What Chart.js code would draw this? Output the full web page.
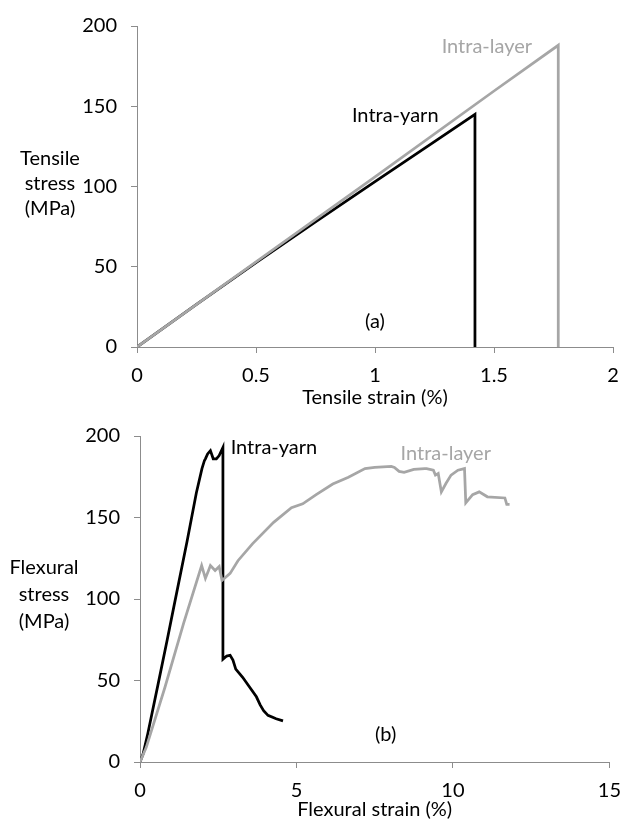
<!DOCTYPE html>
<html>
<head>
<meta charset="utf-8">
<script src="https://cdn.jsdelivr.net/npm/chart.js@4.4.1/dist/chart.umd.min.js"></script>
<style>
  body { margin: 0; background: #fff; }
  #wrap { position: relative; width: 632px; height: 825px; }
  canvas { position: absolute; left: 0; }
  .ytitle { position: absolute; width: 100px; font-family: Lato, sans-serif; font-size: 20px; text-align: center; color: #000; }
</style>
</head>
<body>
<div id="wrap">
  <canvas id="tensileChart" width="632" height="410" style="top:0px"></canvas>
  <canvas id="flexuralChart" width="632" height="415" style="top:410px"></canvas>
  <div class="ytitle" style="left:0px; top:145px; line-height:25px">Tensile<br>stress<br>(MPa)</div>
  <div class="ytitle" style="left:-6px; top:553px; line-height:27px">Flexural<br>stress<br>(MPa)</div>
</div>
<script>
// (a) tensile curves
const tensileYarnStrain = [0, 0.25, 0.5, 0.75, 1.0, 1.25, 1.42, 1.42];
const tensileYarnStress = [0, 26.5, 52.5, 78, 103, 128, 145, 0];
const tensileLayerStrain = [0, 0.5, 1.0, 1.5, 1.77, 1.77];
const tensileLayerStress = [0, 53, 106, 159.5, 188, 0];
const tensileTicks = [0, 0.5, 1, 1.5, 2];

// (b) flexural curves
const flexYarnStrain = [0, 0.1, 0.25, 0.57, 0.87, 1.1, 1.5, 1.8, 1.98, 2.06, 2.09, 2.16, 2.25, 2.34, 2.44, 2.53, 2.65,
  2.65, 2.77, 2.88, 2.97, 3.06, 3.28, 3.5, 3.72, 3.84, 3.95, 4.09, 4.35, 4.57];
const flexYarnStress = [0, 5, 17.5, 47, 75, 97, 135, 165, 180, 185, 186, 189, 191, 186, 186, 188, 193,
  63, 65, 65.5, 62.5, 57, 52, 46, 40, 35, 31.5, 28.6, 26.5, 25.2];
const flexLayerStrain = [0, 0.2, 0.8, 1.4, 1.97, 2.09, 2.19, 2.25, 2.4, 2.53, 2.62, 2.88, 3.13, 3.6, 4.27, 4.84, 5.2,
  5.63, 6.16, 6.66, 7.19, 7.5, 8.03, 8.13, 8.28, 8.44, 8.75, 9.1, 9.16, 9.375, 9.44, 9.53, 9.63, 9.78, 9.94, 10.16,
  10.37, 10.41, 10.63, 10.84, 11.1, 11.66, 11.72, 11.81];
const flexLayerStress = [0, 9, 46, 85.5, 120.5, 112.7, 117.5, 120.5, 117.5, 119.9, 111.4, 115.7, 123.5, 134, 147, 156, 158.4,
  164, 170.5, 174.7, 180, 180.7, 181.3, 180.7, 178.3, 177.7, 179.5, 180, 180, 179, 176, 177, 165.7, 171, 176, 179,
  180, 159, 164, 165.7, 162.7, 162, 158, 158];
const flexTicks = [0, 5, 10, 15];
const stressTicks = [0, 50, 100, 150, 200];

const BLACK = '#000000';
const GREY = '#a6a6a6';
const AXIS = '#8c8c8c';
const FONT = 'Lato, sans-serif';

function pts(xs, ys) {
  return xs.map((x, i) => ({ x: x, y: ys[i] }));
}

const curveLabels = {
  id: 'curveLabels',
  afterDatasetsDraw(chart, args, opts) {
    const { ctx, scales } = chart;
    ctx.save();
    ctx.font = '20px ' + FONT;
    ctx.textAlign = 'center';
    ctx.textBaseline = 'middle';
    opts.items.forEach(it => {
      ctx.fillStyle = it.color;
      ctx.fillText(it.text, scales.x.getPixelForValue(it.x), scales.y.getPixelForValue(it.y));
    });
    ctx.restore();
  }
};

function lineSet(data, color) {
  return {
    data: data,
    borderColor: color,
    borderWidth: 2.75,
    pointRadius: 0,
    showLine: true,
    tension: 0,
    fill: false
  };
}

function buildChart(id, cfg) {
  return new Chart(document.getElementById(id), {
    type: 'scatter',
    data: {
      datasets: [
        lineSet(pts(cfg.layerX, cfg.layerY), GREY),
        lineSet(pts(cfg.yarnX, cfg.yarnY), BLACK)
      ]
    },
    options: {
      responsive: false,
      animation: false,
      layout: { padding: { left: 0, top: 20, right: cfg.rightPad, bottom: 0 } },
      plugins: {
        legend: { display: false },
        tooltip: { enabled: false },
        curveLabels: { items: cfg.labels }
      },
      scales: {
        x: {
          type: 'linear',
          min: 0,
          max: cfg.xTicks[cfg.xTicks.length - 1],
          afterBuildTicks: s => { s.ticks = cfg.xTicks.map(v => ({ value: v })); },
          afterFit: s => { s.height = cfg.xAxisHeight; },
          grid: { drawOnChartArea: false, tickLength: 6, color: AXIS },
          border: { color: AXIS, width: 1 },
          ticks: { color: '#000', padding: 11, font: { family: FONT, size: 20 }, callback: v => String(v) },
          title: {
            display: true,
            text: cfg.xTitle,
            color: '#000',
            font: { family: FONT, size: 20 },
            padding: { top: 0, bottom: cfg.titlePad }
          }
        },
        y: {
          type: 'linear',
          min: 0,
          max: 200,
          afterBuildTicks: s => { s.ticks = stressTicks.map(v => ({ value: v })); },
          afterFit: s => { s.width = cfg.yAxisWidth; },
          grid: { drawOnChartArea: false, tickLength: 6, color: AXIS },
          border: { color: AXIS, width: 1 },
          ticks: { color: '#000', padding: 14, font: { family: FONT, size: 20 } }
        }
      }
    },
    plugins: [curveLabels]
  });
}

buildChart('tensileChart', {
  yarnX: tensileYarnStrain, yarnY: tensileYarnStress,
  layerX: tensileLayerStrain, layerY: tensileLayerStress,
  xTicks: tensileTicks,
  xTitle: 'Tensile strain (%)',
  yAxisWidth: 137, rightPad: 19, xAxisHeight: 63, titlePad: 0,
  labels: [
    { text: 'Intra-yarn', x: 1.085, y: 144, color: BLACK },
    { text: 'Intra-layer', x: 1.47, y: 187, color: GREY },
    { text: '(a)', x: 1.0, y: 16, color: BLACK }
  ]
});

buildChart('flexuralChart', {
  yarnX: flexYarnStrain, yarnY: flexYarnStress,
  layerX: flexLayerStrain, layerY: flexLayerStress,
  xTicks: flexTicks,
  xTitle: 'Flexural strain (%)',
  yAxisWidth: 140, rightPad: 11, xAxisHeight: 63, titlePad: 3,
  labels: [
    { text: 'Intra-yarn', x: 4.28, y: 193, color: BLACK },
    { text: 'Intra-layer', x: 9.77, y: 189, color: GREY },
    { text: '(b)', x: 7.85, y: 17, color: BLACK }
  ]
});
</script>
</body>
</html>
